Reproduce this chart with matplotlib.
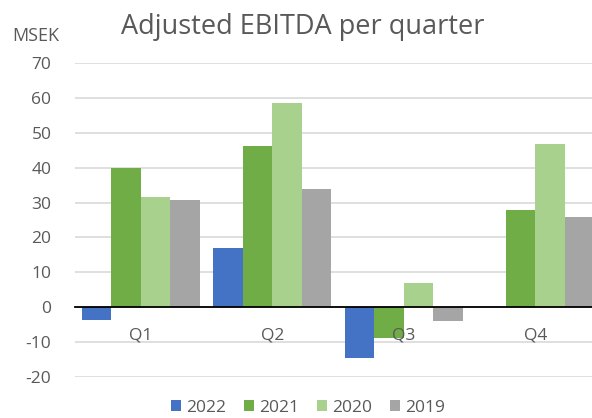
import matplotlib
matplotlib.use("Agg")
import matplotlib.pyplot as plt
import numpy as np

categories = ["Q1", "Q2", "Q3", "Q4"]
series_names = ["2022", "2021", "2020", "2019"]
v2022 = [-3.8, 17.1, -14.6, np.nan]
v2021 = [40.0, 46.1, -8.9, 27.9]
v2020 = [31.7, 58.4, 7.0, 46.8]
v2019 = [30.7, 33.8, -3.9, 25.9]
yticks = [-20, -10, 0, 10, 20, 30, 40, 50, 60, 70]
colors = ["#4472C4", "#70AD47", "#A9D18E", "#A5A5A5"]

plt.rcParams['font.family'] = ['Open Sans', 'DejaVu Sans']
plt.rcParams['axes.unicode_minus'] = False
txt = "#595959"

fig = plt.figure(figsize=(5.92, 4.18), dpi=100)
ax = fig.add_axes([75/592, 41/418, 1 - 75/592, (377-63)/418])

x = np.arange(len(categories))
w = 0.2235
for k, (name, vals) in enumerate(zip(series_names, [v2022, v2021, v2020, v2019])):
    ax.bar(x + (k - 1.5) * w, vals, width=w, color=colors[k], label=name, zorder=3)

ax.set_ylim(-20, 70)
ax.set_xlim(-0.5, -0.5 + 517/131.5)
ax.set_yticks(yticks)
ax.yaxis.grid(True, color="#d9d9d9", linewidth=1.2, zorder=0)
ax.set_axisbelow(True)
for s in ["top", "right", "left"]:
    ax.spines[s].set_visible(False)
ax.spines["bottom"].set_position(("data", 0))
ax.spines["bottom"].set_color("black")
ax.spines["bottom"].set_linewidth(1.3)
ax.spines["bottom"].set_zorder(4)
ax.set_xticks(x)
ax.set_xticklabels([])
ax.tick_params(axis="x", length=0)
ax.tick_params(axis="y", length=0, pad=17, labelsize=12.5, labelcolor=txt)

for xi, lab in zip(x, categories):
    ax.annotate(lab, (xi, 0), xytext=(0, -20), textcoords="offset points",
                ha="center", va="center", fontsize=12.5, color=txt, zorder=10)

fig.text(303/592, 1 - 27/418, "Adjusted EBITDA per quarter", ha="center", va="center",
         fontsize=19.5, color=txt)
fig.text(12/592, 1 - 36/418, "MSEK", ha="left", va="center", fontsize=13, color=txt)

leg = fig.legend(loc="center", bbox_to_anchor=(308/592, 1 - 408/418), ncol=4, frameon=False,
                 fontsize=12.5, handlelength=0.6, handleheight=0.6, handletextpad=0.3,
                 columnspacing=1.0, labelcolor=txt)

fig.savefig("out.png", dpi=100)
